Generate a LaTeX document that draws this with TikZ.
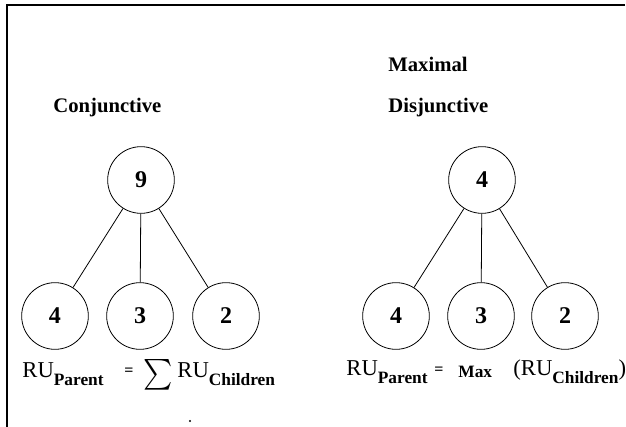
\documentclass[tikz,border=0pt]{standalone}
\usepackage{fontspec}
\setmainfont{Liberation Serif}
\newcommand{\tief}[1]{\raisebox{-6pt}{\fontsize{13}{13}\selectfont\bfseries #1}}

\begin{document}
\begin{tikzpicture}[x=0.75pt, y=-0.75pt, line width=0.6pt,
    knoten/.style={draw, circle, minimum size=50pt, inner sep=0pt, font=\fontsize{18}{18}\selectfont\bfseries},
    titel/.style={anchor=base west, inner sep=0pt, font=\fontsize{15.5}{15.5}\selectfont\bfseries},
    formel/.style={anchor=base west, inner sep=0pt, font=\fontsize{17}{17}\selectfont},
    klein/.style={anchor=base west, inner sep=0pt, font=\fontsize{13}{13}\selectfont\bfseries}]
    \useasboundingbox (0,0) rectangle (626,427);

    % Rahmen.
    \draw[line width=1.2pt] (7,427) -- (7,5) -- (625,5);

    % Konjunktiv.
    \node[titel] (konj) at (53,113) {Conjunctive};
    \node[knoten] (k0) at (141,180) {9};
    \node[knoten] (k1) at (55,316) {4};
    \node[knoten] (k2) at (140,316) {3};
    \node[knoten] (k3) at (226,316) {2};
    \foreach \i in {1,2,3}
    {
        \draw (k0) -- (k\i);
    }

    % Disjunktiv.
    \node[titel] (maxi) at (388,72) {Maximal};
    \node[titel] (disj) at (388,113) {Disjunctive};
    \node[knoten] (d0) at (482,180) {4};
    \node[knoten] (d1) at (396,316) {4};
    \node[knoten] (d2) at (481,316) {3};
    \node[knoten] (d3) at (565,316) {2};
    \foreach \i in {1,2,3}
    {
        \draw (d0) -- (d\i);
    }

    % Formeln.
    \node[formel] (ruk) at (22,378) {RU\tief{Parent}};
    \node[klein, font=\fontsize{12}{12}\selectfont\bfseries] (glk) at (124,376) {=};
    \node[anchor=south west, inner sep=0pt] (summe) at (143,391) {\resizebox*{22pt}{23pt}{$\sum$}};
    \node[formel] (rukk) at (177,378) {RU\tief{Children}};

    \node[formel] (rud) at (346,376) {RU\tief{Parent}};
    \node[klein, font=\fontsize{12}{12}\selectfont\bfseries] (gld) at (434,375) {=};
    \node[klein] (maxf) at (458,378) {Max};
    \node[formel] (rudk) at (513,376) {(RU\tief{Children})};

    \fill (190,421) circle (0.8pt);
\end{tikzpicture}
\end{document}
